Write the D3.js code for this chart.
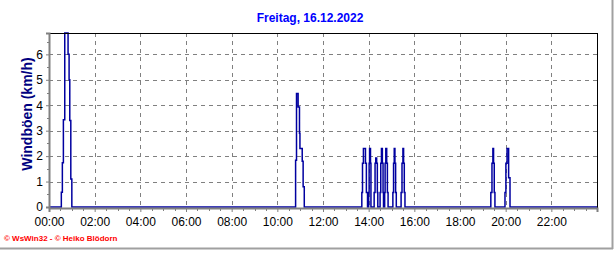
<!DOCTYPE html>
<html>
<head>
<meta charset="utf-8">
<script src="https://cdn.jsdelivr.net/npm/d3@7"></script>
<style>
  html, body { margin: 0; padding: 0; background: #fff; }
  svg { display: block; font-family: "Liberation Sans", Arial, sans-serif; }
</style>
</head>
<body>
<script>
(function() {
  'use strict';

  // gusts over the day: time (hours) and value (km/h)
  const gustHours = [
    0,
    0.54, 0.585, 0.63, 0.69, 0.835, 0.88, 0.91, 0.955, 1.0,
    10.80, 10.84, 10.91, 10.97, 10.99, 11.09, 11.13, 11.18,
    13.70, 13.73, 13.77, 13.86, 13.90, 13.95,
    14.00, 14.02, 14.04, 14.08, 14.10,
    14.24, 14.28, 14.31, 14.35, 14.38, 14.40,
    14.50, 14.53, 14.56, 14.60, 14.63, 14.65,
    14.70, 14.72, 14.75, 14.79, 14.82, 14.85,
    15.06, 15.09, 15.12, 15.15, 15.18, 15.21,
    15.42, 15.46, 15.50, 15.53, 15.56, 15.59,
    19.35, 19.40, 19.44, 19.47, 19.50, 19.53,
    19.97, 20.01, 20.06, 20.13, 20.19,
    24
  ];
  const gustKmh = [
    0,
    0.58, 1.74, 3.43, 6.84, 6.0, 5.0, 3.4, 1.1, 0,
    1.84, 4.46, 3.93, 2.9, 2.3, 1.8, 0.8, 0,
    0.57, 1.72, 2.3, 1.72, 0.57, 0,
    0.57, 1.72, 2.3, 1.72, 0,
    0.57, 1.72, 1.93, 1.72, 0.57, 0,
    0.57, 1.72, 2.3, 1.72, 0.57, 0,
    0.57, 1.72, 2.3, 1.72, 0.57, 0,
    0.57, 1.72, 2.3, 1.72, 0.57, 0,
    0.57, 1.72, 2.3, 1.72, 0.57, 0,
    0.57, 1.72, 2.3, 1.72, 0.57, 0,
    0.57, 1.72, 2.3, 1.15, 0,
    0
  ];
  const xTickHours = [0, 2, 4, 6, 8, 10, 12, 14, 16, 18, 20, 22];
  const xTickLabels = ['00:00', '02:00', '04:00', '06:00', '08:00', '10:00',
    '12:00', '14:00', '16:00', '18:00', '20:00', '22:00'];
  const yTicks = [0, 1, 2, 3, 4, 5, 6];

  const title = 'Freitag, 16.12.2022';
  const yTitle = 'Windböen (km/h)';
  const credit = '\u00a9 WsWin32 - \u00a9 Heiko Blödorn';

  const w = 616;
  const h = 253;
  const left = 49;
  const right = 597;
  const top = 33;
  const bottom = 207;

  const data = gustHours.map((t, i) => [t, gustKmh[i]]);

  const xScale = d3.scaleLinear().domain([0, 24]).range([left, right]);
  const yScale = d3.scaleLinear()
    .domain([0, d3.max(gustKmh)])
    .range([bottom, top]);

  const svg = d3.select('body')
    .append('svg')
    .attr('width', w)
    .attr('height', h);

  // outer frame, grey at right and bottom
  svg.append('line')
    .attr('x1', w - 3.5).attr('x2', w - 3.5)
    .attr('y1', 0).attr('y2', h - 4)
    .attr('stroke', '#a0a0a0').attr('stroke-width', 2);
  svg.append('line')
    .attr('x1', 0).attr('x2', w - 3)
    .attr('y1', h - 4.5).attr('y2', h - 4.5)
    .attr('stroke', '#a0a0a0').attr('stroke-width', 2);

  // dashed grid
  const grid = svg.append('g')
    .attr('stroke', '#808080')
    .attr('stroke-width', 1)
    .attr('stroke-dasharray', '4,4');
  grid.selectAll('line.v')
    .data(xTickHours.slice(1))
    .enter()
    .append('line')
    .attr('x1', (d) => Math.round(xScale(d)) + 0.5)
    .attr('x2', (d) => Math.round(xScale(d)) + 0.5)
    .attr('y1', top)
    .attr('y2', bottom);
  grid.selectAll('line.hz')
    .data(yTicks.slice(1))
    .enter()
    .append('line')
    .attr('x1', left)
    .attr('x2', right)
    .attr('y1', (d) => Math.round(yScale(d)) + 0.5)
    .attr('y2', (d) => Math.round(yScale(d)) + 0.5);

  // gust line
  const line = d3.line()
    .x((d) => xScale(d[0]))
    .y((d) => yScale(d[1]))
    .curve(d3.curveStepAfter);
  svg.append('path')
    .datum(data)
    .attr('fill', 'none')
    .attr('stroke', '#0000a0')
    .attr('stroke-width', 1.5)
    .attr('d', line);

  // plot frame
  svg.append('rect')
    .attr('x', left + 0.5)
    .attr('y', top + 0.5)
    .attr('width', right - left)
    .attr('height', bottom - top + 1)
    .attr('fill', 'none')
    .attr('stroke', '#000')
    .attr('stroke-width', 1);

  // x axis with minor ticks every 30 min
  const xAxis = d3.axisBottom(xScale)
    .tickValues(xTickHours)
    .tickFormat((d, i) => xTickLabels[i])
    .tickSize(4)
    .tickPadding(5);
  const gx = svg.append('g')
    .attr('transform', 'translate(0,' + (bottom + 1) + ')')
    .call(xAxis);
  gx.select('.domain').attr('stroke', '#808080').attr('stroke-width', 2);
  gx.selectAll('.tick line').attr('stroke', '#808080');
  gx.selectAll('.tick text')
    .attr('font-size', 12)
    .attr('fill', '#000')
    .attr('font-family', '"Liberation Sans", Arial, sans-serif');
  gx.selectAll('line.minor')
    .data(d3.range(0.5, 24, 0.5).filter((d) => d % 2 !== 0))
    .enter()
    .append('line')
    .attr('class', 'minor')
    .attr('x1', (d) => Math.round(xScale(d)) + 0.5)
    .attr('x2', (d) => Math.round(xScale(d)) + 0.5)
    .attr('y1', 0)
    .attr('y2', 3)
    .attr('stroke', '#808080');

  // y axis
  const yAxis = d3.axisLeft(yScale)
    .tickValues(yTicks)
    .tickFormat(d3.format('d'))
    .tickSize(3)
    .tickPadding(3);
  const gy = svg.append('g')
    .attr('transform', 'translate(' + left + ',0)')
    .call(yAxis);
  gy.select('.domain').attr('stroke', '#808080').attr('stroke-width', 2);
  gy.selectAll('.tick line').attr('stroke', '#808080');
  gy.selectAll('.tick text')
    .attr('font-size', 12)
    .attr('fill', '#000')
    .attr('font-family', '"Liberation Sans", Arial, sans-serif');
  gy.selectAll('line.minor')
    .data(d3.range(0.5, d3.max(gustKmh), 1))
    .enter()
    .append('line')
    .attr('class', 'minor')
    .attr('x1', -2)
    .attr('x2', 0)
    .attr('y1', (d) => Math.round(yScale(d)) + 0.5)
    .attr('y2', (d) => Math.round(yScale(d)) + 0.5)
    .attr('stroke', '#808080');

  // title
  svg.append('text')
    .attr('x', 310)
    .attr('y', 22)
    .attr('text-anchor', 'middle')
    .attr('font-size', 12)
    .attr('font-weight', 'bold')
    .attr('fill', '#0000ff')
    .text(title);

  // y axis title
  svg.append('text')
    .attr('transform', 'translate(32,114) rotate(-90)')
    .attr('text-anchor', 'middle')
    .attr('font-size', 14)
    .attr('font-weight', 'bold')
    .attr('fill', '#000080')
    .text(yTitle);

  // credit line
  svg.append('text')
    .attr('x', 4)
    .attr('y', 241)
    .attr('font-size', 8)
    .attr('font-weight', 'bold')
    .attr('fill', '#ff0000')
    .text(credit);
}());
</script>
</body>
</html>
